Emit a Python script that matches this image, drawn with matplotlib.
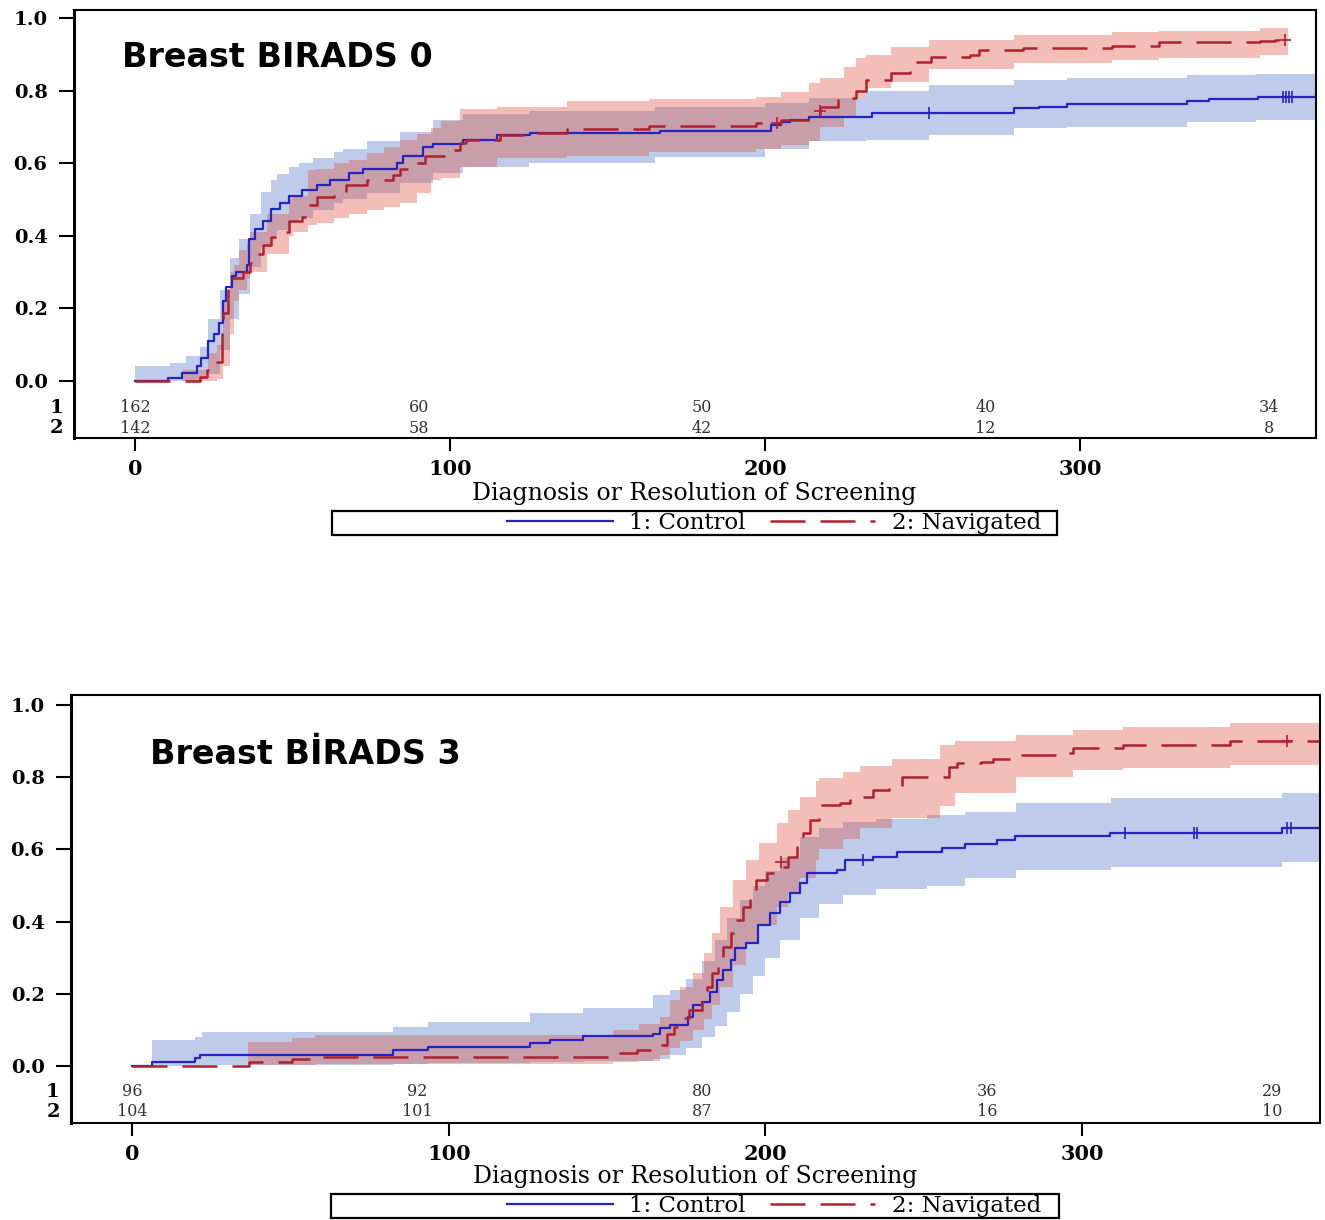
import matplotlib
matplotlib.use("Agg")
import matplotlib.pyplot as plt
from matplotlib.lines import Line2D
from matplotlib.patches import Rectangle

W, H = 1325, 1220

# ---------------- Panel 1: Breast BIRADS 0 ----------------
p1_title = "Breast BIRADS 0"
p1_ctrl_t = [0, 10.5, 15, 19.5, 21, 23, 25, 26.5, 28, 29, 30.7, 32, 35.5, 36, 38, 40.7, 43, 46, 49, 53,
             57.7, 62, 68, 72.5, 83, 85, 91.5, 94.7, 104, 115, 125.5, 166.7, 202, 205, 208, 214, 234,
             279, 287, 296, 334, 341, 356.5, 375]
p1_ctrl_y = [0, 0.008, 0.022, 0.04, 0.063, 0.11, 0.13, 0.16, 0.22, 0.26, 0.29, 0.30, 0.32, 0.39, 0.42,
             0.44, 0.475, 0.49, 0.51, 0.525, 0.54, 0.553, 0.572, 0.585, 0.60, 0.62, 0.645, 0.653, 0.664,
             0.678, 0.684, 0.69, 0.705, 0.714, 0.72, 0.728, 0.739, 0.751, 0.756, 0.763, 0.77, 0.778,
             0.783, 0.783]
p1_ctrl_band_t = [0, 11, 16, 20.6, 23, 27, 30, 33, 36.5, 40, 43, 45, 49, 52, 56.5, 63, 66, 73.6, 84,
                  94.6, 104, 125, 165, 200, 214, 232, 252, 279, 296, 334, 356, 375]
p1_ctrl_hi = [0.04, 0.05, 0.07, 0.095, 0.17, 0.25, 0.34, 0.39, 0.46, 0.52, 0.553, 0.57, 0.59, 0.60,
              0.613, 0.63, 0.64, 0.66, 0.687, 0.72, 0.735, 0.745, 0.755, 0.765, 0.78, 0.80, 0.815,
              0.83, 0.835, 0.843, 0.846, 0.846]
p1_ctrl_lo = [0, 0, 0, 0.005, 0.02, 0.085, 0.17, 0.24, 0.315, 0.37, 0.40, 0.415, 0.44, 0.45, 0.47,
              0.49, 0.50, 0.517, 0.545, 0.572, 0.59, 0.60, 0.617, 0.64, 0.66, 0.664, 0.678, 0.697,
              0.70, 0.714, 0.72, 0.72]
p1_ctrl_cens_t = [252, 364.4, 365.4, 366.3, 367.3]
p1_ctrl_cens_y = [0.739, 0.783, 0.783, 0.783, 0.783]

p1_nav_t = [0, 20.5, 22.7, 26, 27.5, 28, 29.6, 31, 34.4, 36.5, 38.6, 40.7, 43, 46, 49, 53, 55, 57.7,
            63, 67, 73.6, 82, 84, 88, 92, 98, 103, 105, 116, 124, 137, 163, 197, 205, 214, 217.5,
            223, 229, 232, 240, 246, 248, 252.7, 265, 268, 282, 310, 325, 357, 362, 367]
p1_nav_y = [0, 0.012, 0.03, 0.053, 0.13, 0.187, 0.25, 0.283, 0.30, 0.325, 0.35, 0.375, 0.397, 0.41,
            0.44, 0.453, 0.485, 0.507, 0.52, 0.54, 0.553, 0.568, 0.585, 0.60, 0.62, 0.636, 0.655,
            0.664, 0.678, 0.684, 0.694, 0.703, 0.71, 0.72, 0.733, 0.755, 0.78, 0.80, 0.83, 0.848,
            0.857, 0.88, 0.893, 0.898, 0.912, 0.918, 0.923, 0.933, 0.937, 0.94, 0.94]
p1_nav_band_t = [15, 23, 26, 28, 30, 31.5, 33, 35.5, 36.5, 42, 49, 50, 55, 57.7, 63, 68, 73.6, 79, 84,
                 89.5, 94, 97, 103, 115, 137, 163, 197, 205, 214, 217.5, 225, 229, 232, 240, 252,
                 279, 310, 325, 357, 366]
p1_nav_hi = [0.03, 0.077, 0.10, 0.22, 0.30, 0.32, 0.36, 0.38, 0.41, 0.46, 0.50, 0.51, 0.58, 0.585,
             0.60, 0.61, 0.627, 0.645, 0.664, 0.68, 0.697, 0.715, 0.75, 0.755, 0.77, 0.777, 0.782,
             0.796, 0.82, 0.835, 0.865, 0.89, 0.898, 0.92, 0.94, 0.953, 0.962, 0.965, 0.972, 0.972]
p1_nav_lo = [0, 0, 0.005, 0.04, 0.13, 0.22, 0.25, 0.28, 0.30, 0.35, 0.40, 0.41, 0.43, 0.435, 0.45,
             0.46, 0.47, 0.48, 0.49, 0.517, 0.553, 0.56, 0.59, 0.613, 0.62, 0.63, 0.64, 0.65, 0.66,
             0.70, 0.73, 0.78, 0.807, 0.824, 0.86, 0.876, 0.884, 0.89, 0.898, 0.898]
p1_nav_cens_t = [203.7, 217.5, 365]
p1_nav_cens_y = [0.71, 0.745, 0.94]

p1_risk_t = [0, 90, 180, 270, 360]
p1_risk_ctrl = [162, 60, 50, 40, 34]
p1_risk_nav = [142, 58, 42, 12, 8]

# ---------------- Panel 2: Breast BIRADS 3 ----------------
p2_title = "Breast BİRADS 3"
p2_ctrl_t = [0, 6.2, 20, 21.5, 82.5, 93.5, 125.7, 132, 142.5, 164.5, 166.7, 170, 175.5, 177, 180,
             182.5, 184.7, 186.6, 189, 190.4, 194, 197.7, 201.5, 204.6, 207.8, 211, 213, 222.6, 225,
             234, 241.5, 255.7, 263, 273, 278.8, 308.8, 363, 375]
p2_ctrl_y = [0, 0.011, 0.022, 0.03, 0.044, 0.053, 0.065, 0.073, 0.083, 0.09, 0.105, 0.113, 0.136,
             0.17, 0.177, 0.205, 0.238, 0.266, 0.294, 0.327, 0.34, 0.39, 0.424, 0.454, 0.479, 0.507,
             0.535, 0.543, 0.57, 0.579, 0.593, 0.604, 0.615, 0.626, 0.637, 0.645, 0.659, 0.659]
p2_ctrl_band_t = [6.2, 20, 22, 82.5, 93.5, 125.7, 142.5, 164.5, 170, 175, 180, 184, 188, 192, 196,
                  200, 204.6, 211, 217, 224.5, 235, 251, 263, 279, 309, 363, 375]
p2_ctrl_hi = [0.072, 0.08, 0.094, 0.108, 0.122, 0.147, 0.161, 0.197, 0.21, 0.24, 0.29, 0.35, 0.41,
              0.46, 0.50, 0.54, 0.575, 0.634, 0.66, 0.675, 0.685, 0.695, 0.705, 0.728, 0.742, 0.756,
              0.756]
p2_ctrl_lo = [0, 0, 0.003, 0.005, 0.008, 0.012, 0.015, 0.02, 0.03, 0.05, 0.08, 0.11, 0.15, 0.20,
              0.25, 0.30, 0.35, 0.41, 0.45, 0.475, 0.49, 0.50, 0.52, 0.543, 0.551, 0.565, 0.565]
p2_ctrl_cens_t = [230.8, 313.5, 335.2, 336.2, 364.7, 366]
p2_ctrl_cens_y = [0.57, 0.645, 0.645, 0.645, 0.659, 0.659]

p2_nav_t = [0, 37, 50.5, 57, 152, 159.5, 164.5, 169, 171, 174.6, 176, 180, 181.5, 183, 185, 186.6,
            189, 190.5, 193, 195, 197, 200.5, 202.4, 207, 210, 212, 214, 217, 223.6, 226.7, 234, 239,
            243, 258, 260.5, 268, 272, 279.4, 294, 297, 313, 346.7, 375]
p2_nav_y = [0, 0.011, 0.019, 0.025, 0.036, 0.044, 0.058, 0.09, 0.108, 0.133, 0.155, 0.183, 0.219,
            0.257, 0.302, 0.33, 0.368, 0.404, 0.44, 0.479, 0.515, 0.534, 0.551, 0.579, 0.617, 0.645,
            0.681, 0.723, 0.728, 0.745, 0.765, 0.773, 0.80, 0.828, 0.839, 0.842, 0.85, 0.861, 0.867,
            0.881, 0.889, 0.90, 0.90]
p2_nav_band_t = [36.6, 50.5, 57.8, 152, 160, 166.7, 170, 173, 177, 180.5, 183, 185.6, 189.8, 194,
                 198, 203.6, 207, 211, 216, 217, 224.5, 230, 240, 255, 260, 279, 297, 313, 346.7,
                 375]
p2_nav_hi = [0.066, 0.078, 0.086, 0.10, 0.115, 0.136, 0.183, 0.219, 0.257, 0.313, 0.368, 0.44, 0.515,
             0.57, 0.617, 0.673, 0.71, 0.745, 0.79, 0.798, 0.815, 0.83, 0.85, 0.89, 0.90, 0.917,
             0.931, 0.939, 0.95, 0.95]
p2_nav_lo = [0.002, 0.004, 0.006, 0.01, 0.015, 0.03, 0.05, 0.07, 0.10, 0.13, 0.17, 0.22, 0.28, 0.34,
             0.39, 0.44, 0.48, 0.52, 0.57, 0.60, 0.63, 0.66, 0.687, 0.72, 0.756, 0.80, 0.82, 0.825,
             0.835, 0.835]
p2_nav_cens_t = [205, 364.7]
p2_nav_cens_y = [0.565, 0.90]

p2_risk_t = [0, 90, 180, 270, 360]
p2_risk_ctrl = [96, 92, 80, 36, 29]
p2_risk_nav = [104, 101, 87, 16, 10]

x_ticks = [0, 100, 200, 300]
y_ticks = [0.0, 0.2, 0.4, 0.6, 0.8, 1.0]
x_label = "Diagnosis or Resolution of Screening"
legend_labels = ["1: Control", "2: Navigated"]
row_labels = ["1", "2"]

BLUE = "#2424c4"
RED = "#b0202e"
BLUE_FILL = "#5577cc"
RED_FILL = "#dd5544"
NAV_DASH = (0, (14, 6))
SERIF = "DejaVu Serif"
TICKFONT = "DejaVu Serif"

fig = plt.figure(figsize=(W / 100, H / 100), dpi=100)


def panel(ax, title, title_xy, ct, cy, cbt, clo, chi, cct, ccy,
          nt, ny, nbt, nlo, nhi, nct, ncy, rt, rc, rn, xlim, ylim, risk_y):
    ax.fill_between(cbt, clo, chi, step="post", color=BLUE_FILL, alpha=0.38, lw=0)
    ax.fill_between(nbt, nlo, nhi, step="post", color=RED_FILL, alpha=0.38, lw=0)
    ax.step(ct, cy, where="post", color=BLUE, lw=1.6)
    ax.step(nt, ny, where="post", color=RED, lw=1.8, linestyle=NAV_DASH)
    ax.plot(cct, ccy, "+", color=BLUE, ms=8, mew=1.2)
    ax.plot(nct, ncy, "+", color=RED, ms=9, mew=1.2)
    ax.set_xlim(*xlim)
    ax.set_ylim(*ylim)
    ax.set_xticks(x_ticks)
    ax.set_yticks(y_ticks)
    ax.set_yticklabels([f"{v:.1f}" for v in y_ticks])
    ax.tick_params(axis="y", direction="out", length=11, width=1.5, pad=8, labelsize=14)
    ax.tick_params(axis="x", direction="out", length=9, width=1.5, pad=6, labelsize=15)
    for lab in ax.get_xticklabels() + ax.get_yticklabels():
        lab.set_fontfamily(TICKFONT)
        lab.set_fontweight("bold")
    for s in ax.spines.values():
        s.set_linewidth(1.5)
    ax.spines["left"].set_linewidth(2.2)
    ax.text(title_xy[0], title_xy[1], title, transform=ax.transAxes, fontsize=24,
            fontweight="bold", family="DejaVu Sans", va="center", ha="left")
    for t, a, b in zip(rt, rc, rn):
        ax.text(t, risk_y[0], str(a), ha="center", va="center", fontsize=11.5,
                family=TICKFONT, color="#333333")
        ax.text(t, risk_y[1], str(b), ha="center", va="center", fontsize=11.5,
                family=TICKFONT, color="#333333")
    trans = ax.get_yaxis_transform()
    for lab, yy in zip(row_labels, risk_y):
        ax.text(-0.009, yy, lab, transform=trans, ha="right", va="center", fontsize=14,
                fontweight="bold", family=TICKFONT)


ax1 = fig.add_axes([74 / W, 1 - 438 / H, (1316 - 74) / W, (438 - 10) / H])
panel(ax1, p1_title, (0.0386, 0.89), p1_ctrl_t, p1_ctrl_y, p1_ctrl_band_t, p1_ctrl_lo, p1_ctrl_hi,
      p1_ctrl_cens_t, p1_ctrl_cens_y, p1_nav_t, p1_nav_y, p1_nav_band_t, p1_nav_lo, p1_nav_hi,
      p1_nav_cens_t, p1_nav_cens_y, p1_risk_t, p1_risk_ctrl, p1_risk_nav,
      (-19.4, 374.9), (-0.157, 1.022), (-0.074, -0.13))

ax2 = fig.add_axes([71 / W, 1 - 1123 / H, (1320 - 71) / W, (1123 - 695) / H])
panel(ax2, p2_title, (0.063, 0.86), p2_ctrl_t, p2_ctrl_y, p2_ctrl_band_t, p2_ctrl_lo, p2_ctrl_hi,
      p2_ctrl_cens_t, p2_ctrl_cens_y, p2_nav_t, p2_nav_y, p2_nav_band_t, p2_nav_lo, p2_nav_hi,
      p2_nav_cens_t, p2_nav_cens_y, p2_risk_t, p2_risk_ctrl, p2_risk_nav,
      (-19.3, 375.1), (-0.158, 1.028), (-0.072, -0.127))

handles = [Line2D([], [], color=BLUE, lw=1.6),
           Line2D([], [], color=RED, lw=1.8, linestyle=NAV_DASH)]

for (xc, yl, box) in [(694, 493, (332, 511, 1057, 535)), (695, 1176, (331, 1194, 1059, 1218))]:
    fig.text(xc / W, 1 - yl / H, x_label, ha="center", va="center", fontsize=17, family=SERIF)
    x0, y0, x1, y1 = box
    fig.add_artist(Rectangle((x0 / W, 1 - y1 / H), (x1 - x0) / W, (y1 - y0) / H,
                             transform=fig.transFigure, fill=False, lw=1.6, ec="black"))
    fig.legend(handles, legend_labels, loc="center",
               bbox_to_anchor=(774 / W, 1 - (y0 + y1) / 2 / H), ncol=2, frameon=False,
               handlelength=4.6, handletextpad=0.72, columnspacing=1.05,
               prop={"family": SERIF, "size": 16.5}, borderpad=0.1)

fig.savefig("out.png", dpi=100, facecolor="white")
